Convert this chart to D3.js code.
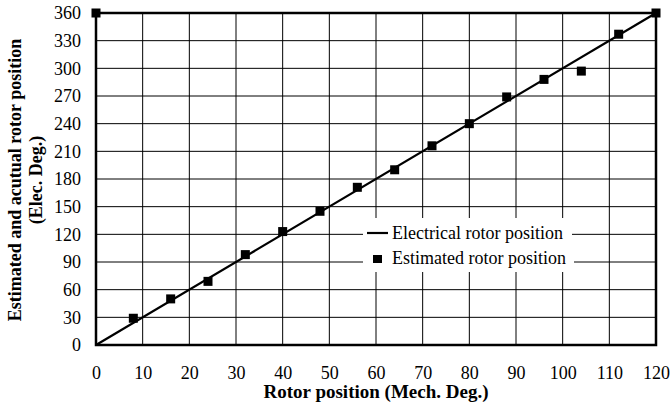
<!DOCTYPE html>
<html>
<head>
<meta charset="utf-8">
<script src="https://cdn.jsdelivr.net/npm/d3@7"></script>
<style>
  body { margin: 0; background: #fff; }
</style>
</head>
<body>
<div id="chart"></div>
<script>
// values
var mechPos = [0, 8, 16, 24, 32, 40, 48, 56, 64, 72, 80, 88, 96, 104, 112, 120];
var estPos = [360, 29, 50, 69, 98, 123, 145, 171, 190, 216, 240, 269, 288, 297, 337, 360];
var elecLine = [[0, 0], [120, 360]];
var xTicks = d3.range(0, 121, 10);
var yTicks = d3.range(0, 361, 30);

var FONT = "'Liberation Serif', 'Times New Roman', Times, serif";
var W = 672, H = 408;
var svg = d3.select("#chart").append("svg")
    .attr("width", W)
    .attr("height", H)
    .attr("font-family", FONT);

var x = d3.scaleLinear().domain([0, 120]).range([96, 656]);
var y = d3.scaleLinear().domain([0, 360]).range([345, 13]);

// grid
svg.selectAll("line.vg").data(xTicks).enter().append("line")
    .attr("class", "vg")
    .attr("x1", function(d) { return x(d); }).attr("x2", function(d) { return x(d); })
    .attr("y1", y(0)).attr("y2", y(360))
    .attr("stroke", "#000").attr("stroke-width", 1);
svg.selectAll("line.hg").data(yTicks).enter().append("line")
    .attr("class", "hg")
    .attr("x1", x(0)).attr("x2", x(120))
    .attr("y1", function(d) { return y(d); }).attr("y2", function(d) { return y(d); })
    .attr("stroke", "#000").attr("stroke-width", 1);

// legend backgrounds (grid shows around them)
svg.append("rect").attr("x", 363).attr("y", 218).attr("width", 209).attr("height", 29).attr("fill", "#fff");
svg.append("rect").attr("x", 363).attr("y", 247).attr("width", 211).attr("height", 25).attr("fill", "#fff");

// plot border
svg.append("rect")
    .attr("x", x(0)).attr("y", y(360))
    .attr("width", x(120) - x(0)).attr("height", y(0) - y(360))
    .attr("fill", "none").attr("stroke", "#000").attr("stroke-width", 2.5);

// axes
var xAxis = d3.axisBottom(x).tickValues(xTicks).tickSize(0).tickPadding(21);
svg.append("g").attr("transform", "translate(0," + y(0) + ")").call(xAxis)
    .attr("font-family", FONT).attr("font-size", 18)
    .call(function(g) { g.select(".domain").remove(); });

var yAxis = d3.axisLeft(y).tickValues(yTicks).tickSize(0).tickPadding(15);
svg.append("g").attr("transform", "translate(" + x(0) + ",0)").call(yAxis)
    .attr("font-family", FONT).attr("font-size", 18)
    .call(function(g) { g.select(".domain").remove(); });

// electrical position line
var line = d3.line().x(function(d) { return x(d[0]); }).y(function(d) { return y(d[1]); });
svg.append("path").datum(elecLine)
    .attr("d", line)
    .attr("fill", "none").attr("stroke", "#000").attr("stroke-width", 2.2);

// estimated markers
var s = 9;
svg.selectAll("rect.pt").data(mechPos).enter().append("rect")
    .attr("class", "pt")
    .attr("x", function(d) { return x(d) - s / 2; })
    .attr("y", function(d, i) { return y(estPos[i]) - s / 2; })
    .attr("width", s).attr("height", s)
    .attr("fill", "#000");

// legend
svg.append("line").attr("x1", 367).attr("x2", 388).attr("y1", 233).attr("y2", 233)
    .attr("stroke", "#000").attr("stroke-width", 2.2);
svg.append("text").attr("x", 392).attr("y", 239).attr("font-size", 18).text("Electrical rotor position");
svg.append("rect").attr("x", 373).attr("y", 255).attr("width", 9).attr("height", 8).attr("fill", "#000");
svg.append("text").attr("x", 392).attr("y", 264).attr("font-size", 18).text("Estimated rotor position");

// axis titles
svg.append("text").attr("x", (x(0) + x(120)) / 2).attr("y", 398)
    .attr("text-anchor", "middle").attr("font-size", 19).attr("font-weight", "bold")
    .text("Rotor position (Mech. Deg.)");
var yt = svg.append("g").attr("transform", "translate(0," + ((y(0) + y(360)) / 2 + 1) + ") rotate(-90)");
yt.append("text").attr("x", 0).attr("y", 21).attr("text-anchor", "middle")
    .attr("font-size", 18).attr("font-weight", "bold")
    .text("Estimated and acutual rotor position");
yt.append("text").attr("x", 0).attr("y", 42).attr("text-anchor", "middle")
    .attr("font-size", 18).attr("font-weight", "bold")
    .text("(Elec. Deg.)");
</script>
</body>
</html>
